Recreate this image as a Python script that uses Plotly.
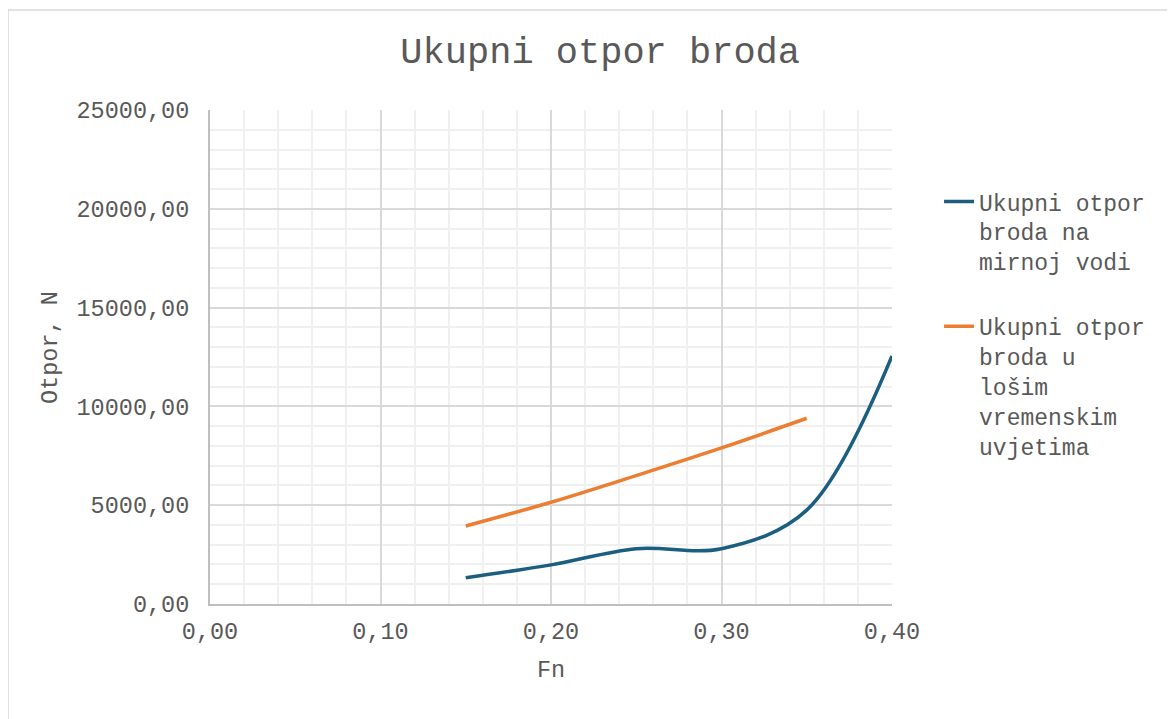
import plotly.graph_objects as go

# Data
fn_calm = [0.15, 0.20, 0.25, 0.30, 0.35, 0.40]
otpor_calm = [1330, 1980, 2800, 2800, 4750, 12550]
fn_bad = [0.15, 0.20, 0.25, 0.30, 0.35]
otpor_bad = [3950, 5150, 6500, 7900, 9400]
name_calm = "Ukupni otpor<br>broda na<br>mirnoj vodi"
name_bad = "Ukupni otpor<br>broda u<br>lošim<br>vremenskim<br>uvjetima"
y_title = "Otpor, N"

FONT = "Liberation Mono, Courier New, monospace"
TXT = "#595959"

fig = go.Figure()
fig.add_trace(go.Scatter(x=fn_calm, y=otpor_calm, mode="lines", name=name_calm,
                         line=dict(color="#1B5E80", width=3.5, shape="spline", smoothing=1),
                         legendgroup="a"))
fig.add_trace(go.Scatter(x=fn_bad, y=otpor_bad, mode="lines", name=name_bad,
                         line=dict(color="#ED7D31", width=3.5, shape="spline", smoothing=1),
                         legendgroup="b"))

fig.update_layout(
    width=1175, height=719,
    margin=dict(l=202, r=291, t=102, b=123),
    paper_bgcolor="white", plot_bgcolor="white",
    separators=", ",
    font=dict(family=FONT, color=TXT, size=23.5),
    title=dict(text="Ukupni otpor broda", font=dict(family=FONT, size=37, color=TXT),
               x=0.504, xref="container", xanchor="center", y=0.9416, yref="container", yanchor="middle"),
    showlegend=True,
    legend=dict(x=1.069, xanchor="left", y=0.858, yanchor="top",
                font=dict(family=FONT, size=23, color=TXT),
                tracegroupgap=32, valign="top", bgcolor="rgba(0,0,0,0)"),
)

fig.update_xaxes(range=[0, 0.40], dtick=0.1, tick0=0, tickformat=".2f",
                 showgrid=True, gridcolor="#D9D9D9", gridwidth=1.5,
                 minor=dict(dtick=0.02, showgrid=True, gridcolor="#F0F0F0", gridwidth=1.5),
                 showline=True, linecolor="#BFBFBF", linewidth=2, mirror=False,
                 zeroline=False, ticks="", ticklabelstandoff=5,
                 title=dict(text="Fn", font=dict(family=FONT, size=23.5, color=TXT), standoff=15))
fig.update_yaxes(range=[0, 25000], dtick=5000, tick0=0, tickformat=".2f",
                 showgrid=True, gridcolor="#D9D9D9", gridwidth=1.5,
                 minor=dict(dtick=1000, showgrid=True, gridcolor="#F0F0F0", gridwidth=1.5),
                 showline=True, linecolor="#BFBFBF", linewidth=2, mirror=False,
                 zeroline=False, ticks="", ticklabelstandoff=14)

# y-axis title as annotation to place it freely
fig.add_annotation(text=y_title, textangle=-90, xref="paper", yref="paper",
                   x=(50 - 210) / 682, y=(604 - 348) / 494, xanchor="center", yanchor="middle",
                   showarrow=False, font=dict(family=FONT, size=23.5, color=TXT))

# outer chart frame
fig.add_shape(type="rect", xref="paper", yref="paper",
              x0=(8 - 210) / 682, x1=(1190 - 210) / 682,
              y0=(604 - 730) / 494, y1=(604 - 10) / 494,
              line=dict(color="#D9D9D9", width=1.5), layer="below")

fig.write_html("out.html")
